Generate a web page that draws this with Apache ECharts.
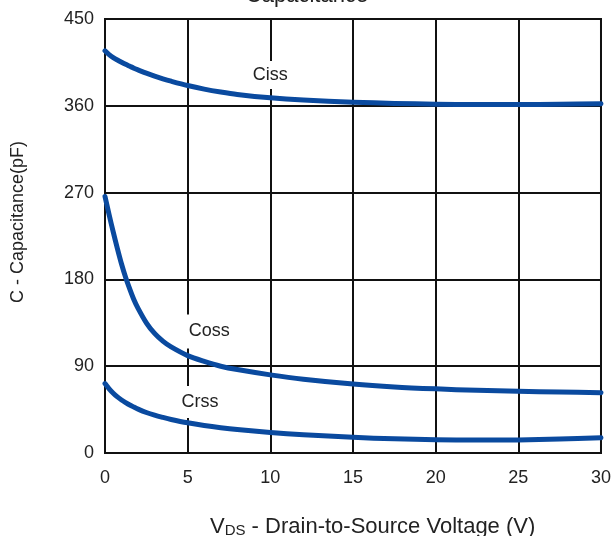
<!DOCTYPE html>
<html>
<head>
<meta charset="utf-8">
<script src="https://cdn.jsdelivr.net/npm/echarts@6/dist/echarts.min.js"></script>
<style>
html,body{margin:0;padding:0;background:#fff;}
#chart{width:614px;height:536px;}
</style>
</head>
<body>
<div id="chart"></div>
<script>
// Drain-to-source voltage (V)
var vds  = [0, 0.25, 0.5, 0.75, 1, 1.25, 1.5, 1.75, 2, 2.5, 3, 3.5, 4, 5, 6, 7, 8, 10, 12, 15, 17.5, 20, 22.5, 25, 27.5, 30];
// Capacitances (pF)
var ciss = [417, 413, 410, 407.5, 405.2, 403, 401, 399, 397.2, 393.8, 390.8, 388, 385.5, 381, 377.3, 374.3, 371.8, 368.3, 366, 363.8, 362.5, 361.7, 361.3, 361.3, 361.6, 362.2];
var coss = [266, 247, 229, 212, 196, 182, 170, 159, 150, 135, 124, 116, 110, 101, 95, 90, 86.5, 81, 76.5, 71.5, 68.5, 66.5, 65, 64, 63.2, 62.5];
var crss = [72, 66.5, 62, 58.2, 55, 52.3, 49.8, 47.6, 45.5, 42, 39.2, 36.9, 34.8, 31.3, 28.5, 26.2, 24.3, 21.3, 19, 16.3, 14.7, 13.8, 13.4, 13.6, 14.5, 15.8];
var seriesNames = ['Ciss', 'Coss', 'Crss'];
var xTicks = [0, 5, 10, 15, 20, 25, 30];
var yTicks = [0, 90, 180, 270, 360, 450];

function pairs(ys) { return vds.map(function (x, i) { return [x, ys[i]]; }); }

var FONT = 'Liberation Sans, Arial, Helvetica, sans-serif';
var TXT = '#222';
var BLUE = '#0a4a9f';

function tag(name, coord, pad) {
  return {
    symbol: 'rect', symbolSize: 1, silent: true,
    itemStyle: { color: 'rgba(0,0,0,0)' },
    label: {
      show: true, position: 'inside', formatter: name,
      fontFamily: FONT, fontSize: 18, color: TXT,
      backgroundColor: '#fff', padding: pad
    },
    data: [{ coord: coord }]
  };
}

function line(i, data, coord, pad) {
  return {
    name: seriesNames[i], type: 'line', data: pairs(data),
    smooth: 0.3, showSymbol: false,
    lineStyle: { color: BLUE, width: 5, cap: 'round', join: 'round' }, itemStyle: { color: BLUE },
    markPoint: tag(seriesNames[i], coord, pad)
  };
}

var chart = echarts.init(document.getElementById('chart'), null, { renderer: 'canvas' });
chart.setOption({
  animation: false,
  backgroundColor: '#fff',
  title: {
    text: 'Capacitance', left: 'center', top: -20,
    textStyle: { fontFamily: FONT, fontSize: 22, fontWeight: 'normal', color: TXT }
  },
  grid: { left: 105, right: 9, top: 19, bottom: 83, show: true, borderColor: '#111', borderWidth: 2, backgroundColor: 'transparent' },
  xAxis: {
    type: 'value', min: xTicks[0], max: xTicks[xTicks.length - 1], interval: 5,
    axisLine: { show: true, lineStyle: { color: '#111', width: 2 } },
    axisTick: { show: false },
    axisLabel: { fontFamily: FONT, fontSize: 18, color: TXT, margin: 16 },
    splitLine: { show: true, lineStyle: { color: '#111', width: 2 } }
  },
  yAxis: {
    type: 'value', min: yTicks[0], max: yTicks[yTicks.length - 1], interval: 90,
    axisLine: { show: true, lineStyle: { color: '#111', width: 2 } },
    axisTick: { show: false },
    axisLabel: { fontFamily: FONT, fontSize: 18, color: TXT, margin: 11 },
    splitLine: { show: true, lineStyle: { color: '#111', width: 2 } }
  },
  graphic: [
    {
      type: 'text', x: 18, y: 222, rotation: Math.PI / 2,
      style: { text: 'C - Capacitance(pF)', fontFamily: FONT, fontSize: 18, fill: TXT, align: 'center', verticalAlign: 'middle' }
    },
    {
      type: 'text', x: 210, y: 527,
      style: {
        text: '{a|V}{b|DS}{a| - Drain-to-Source Voltage (V)}',
        verticalAlign: 'middle',
        rich: {
          a: { fontFamily: FONT, fontSize: 22, fill: TXT, color: TXT },
          b: { fontFamily: FONT, fontSize: 15, fill: TXT, color: TXT, verticalAlign: 'bottom', padding: [6, 0, 0, 0] }
        }
      }
    }
  ],
  series: [
    line(0, ciss, [10, 392], [5, 3]),
    line(1, coss, [6.3, 126], [8, 2]),
    line(2, crss, [5.75, 53], [7, 2])
  ]
});
</script>
</body>
</html>
